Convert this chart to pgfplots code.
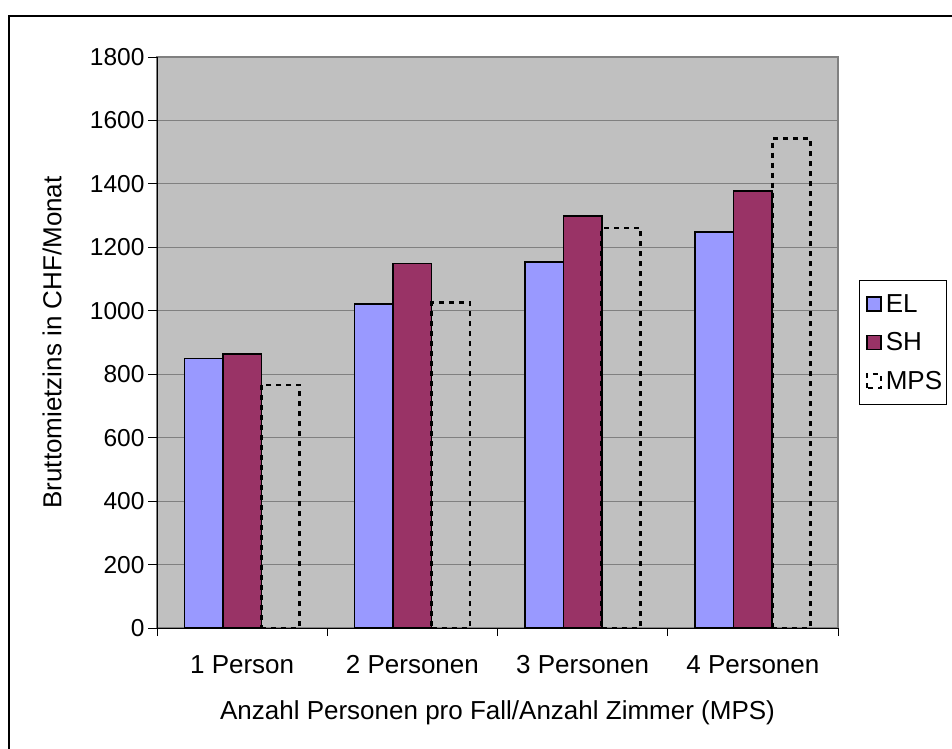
\documentclass[border=0pt]{standalone}
\usepackage{pgfplots}
\pgfplotsset{compat=1.18}
\usepackage{fontspec}
\setmainfont{Liberation Sans}
\definecolor{elc}{HTML}{9999FF}
\definecolor{shc}{HTML}{993366}
\definecolor{bgc}{HTML}{C0C0C0}
\definecolor{gridc}{HTML}{808080}
\begin{document}
\begin{tikzpicture}[x=1bp,y=1bp]
\path[use as bounding box] (0,0) rectangle (952,-749);
\draw[black, line width=1.3bp] (9,-770) -- (9,-16) -- (980,-16);
\begin{axis}[
  at={(157bp,-628bp)}, anchor=south west,
  width=681bp, height=571bp, scale only axis,
  font=\fontsize{26bp}{31bp}\selectfont,
  /pgf/number format/assume math mode=true,
  /pgf/number format/1000 sep={},
  xmin=-0.5, xmax=3.5, ymin=0, ymax=1800,
  ytick={0,200,...,1800},
  xtick={0,1,2,3},
  xticklabels={1 Person, 2 Personen, 3 Personen, 4 Personen},
  minor xtick={-0.5,0.5,1.5,2.5,3.5},
  major x tick style={draw=none},
  major tick length=9bp, minor tick length=8bp,
  tick align=outside,
  tick style={black, line width=1bp},
  axis x line*=bottom, axis y line*=left,
  axis line style={black, line width=1bp, -},
  axis background/.style={fill=bgc, draw=gridc, line width=1.5bp},
  ymajorgrids, grid style={gridc, line width=1.2bp},
  ylabel={Bruttomietzins in CHF/Monat},
  xlabel={Anzahl Personen pro Fall/Anzahl Zimmer (MPS)},
  ylabel style={at={(axis description cs:-0.154,0.5)}, anchor=center},
  xlabel style={at={(rel axis cs:0.5,0)}, anchor=base, yshift=-91bp},
  xticklabel style={anchor=base, yshift=-36bp},
  yticklabel style={font=\fontsize{24.5bp}{29bp}\selectfont},
  legend style={at={(1,0.5)}, anchor=west, xshift=21bp, draw=black, fill=white,
    line width=1bp, font=\fontsize{26bp}{31bp}\selectfont, row sep=15bp,
    inner xsep=3bp, inner ysep=12bp, cells={anchor=west},
    nodes={inner xsep=1.5bp}},
  legend image code/.code={\draw[#1] (3bp,-7bp) rectangle (17bp,7bp);\path (0bp,0bp) (19bp,0bp);},
]
\addplot[ybar, bar width=0.226, bar shift=-0.226, fill=elc, draw=black, line width=1.6bp]
  coordinates {(0,850) (1,1021) (2,1154) (3,1248)};
\addlegendentry{EL}
\addplot[ybar, bar width=0.226, bar shift=0, fill=shc, draw=black, line width=1.6bp]
  coordinates {(0,864) (1,1149) (2,1298) (3,1378)};
\addlegendentry{SH}
\addplot[ybar, bar width=0.226, bar shift=0.226, fill=none, draw=black, line width=2.8bp, dash pattern=on 5bp off 5bp]
  coordinates {(0,766) (1,1025) (2,1261) (3,1542)};
\addlegendentry{MPS}
\end{axis}
\end{tikzpicture}
\end{document}
